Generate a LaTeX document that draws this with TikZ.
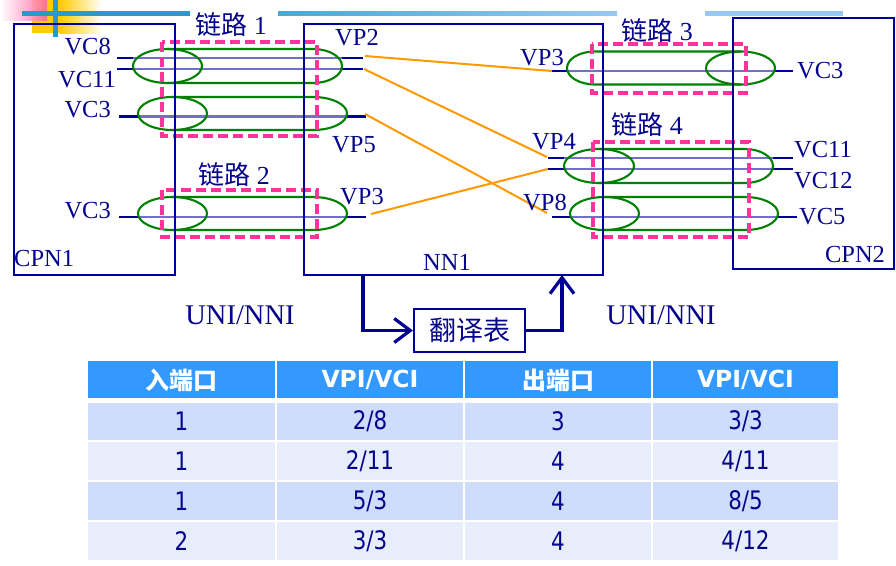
\documentclass[tikz,border=0pt]{standalone}
\usepackage{fontspec}
\setmainfont{Liberation Serif}
\newfontfamily\cjk{Noto Sans CJK SC}
\newfontfamily\tabfont{DejaVu Sans}[FakeStretch=0.84]
\newfontfamily\tabhead{DejaVu Sans}
\usetikzlibrary{arrows.meta}
\definecolor{navy}{RGB}{0,0,150}
\definecolor{txtblue}{RGB}{5,5,140}
\definecolor{lightvc}{RGB}{112,112,200}
\definecolor{tubegreen}{RGB}{0,128,0}
\definecolor{linkpink}{RGB}{255,51,153}
\definecolor{xorange}{RGB}{255,153,0}
\definecolor{hdrblue}{RGB}{51,153,255}
\definecolor{rowa}{RGB}{207,220,252}
\definecolor{rowb}{RGB}{232,237,252}
\definecolor{decoblue}{RGB}{40,155,205}
\definecolor{decoblueb}{RGB}{150,200,245}
\definecolor{decoyellow}{RGB}{255,204,0}
\definecolor{decopink}{RGB}{255,100,160}
\begin{document}
\begin{tikzpicture}[x=1pt,y=-1pt,
  box/.style={draw=navy, line width=2.4pt, inner sep=0pt, outer sep=0pt, anchor=north west},
  lbl/.style={text=txtblue, inner sep=0pt, font=\fontsize{24.5}{28}\selectfont},
  linklbl/.style={text=txtblue, inner sep=0pt, font=\fontsize{26}{30}\selectfont},
  biglbl/.style={text=txtblue, inner sep=0pt, font=\fontsize{28.5}{32}\selectfont},
  vcdark/.style={draw=navy, line width=2.2pt},
  vclight/.style={draw=lightvc, line width=2.2pt},
  tube/.style={draw=tubegreen, line width=2.1pt},
  linkbox/.style={draw=linkpink, line width=3.2pt, dash pattern=on 10pt off 5pt},
  xconn/.style={draw=xorange, line width=2pt},
  flow/.style={draw=navy, line width=3.2pt, -{Straight Barb[length=16pt,width=24pt]}},
  hcell/.style={text=white, inner sep=0pt},
  cell/.style={text=txtblue, inner sep=0pt, font=\tabfont\fontsize{25.5}{27}\selectfont}]
\useasboundingbox (0,0) rectangle (896,565);

% decoration
\fill[decoyellow] (32,0) rectangle (60,33);
\shade[left color=decoyellow, right color=white] (60,0) rectangle (102,33);
\shade[left color=white, right color=decopink, opacity=0.9] (0,0) rectangle (47,20);
\draw[decoblue, line width=4.5pt] (22,13.5) -- (190,13.5);
\draw[decoblue, line width=4.5pt] (55.5,0) -- (55.5,37);
\shade[left color=decoblue!85, right color=decoblueb] (278,11.3) rectangle (617,15.7);
\fill[decoblueb] (705,11.3) rectangle (843,15.7);

% VC / VP lines, left side
\foreach \y in {58,69}{
  \draw[vcdark] (117,\y) -- (133,\y);
  \draw[vclight] (133,\y) -- (342,\y);
  \draw[vcdark] (342,\y) -- (363,\y);
}
\foreach \y in {116.5,217}{
  \draw[vcdark] (119,\y) -- (138,\y);
  \draw[vclight] (138,\y) -- (347,\y);
  \draw[vcdark] (347,\y) -- (366,\y);
}
% right side
\draw[vcdark] (552,71) -- (567,71);
\draw[vclight] (567,71) -- (775,71);
\draw[vcdark] (775,71) -- (793,71);
\foreach \y in {158,169}{
  \draw[vcdark] (548,\y) -- (564,\y);
  \draw[vclight] (564,\y) -- (773,\y);
  \draw[vcdark] (773,\y) -- (793,\y);
}
\draw[vcdark] (552,217) -- (570,217);
\draw[vclight] (570,217) -- (778,217);
\draw[vcdark] (778,217) -- (797,217);

% green tubes
\draw[tube] (167.5,66) ellipse[x radius=34.5pt, y radius=17pt];
\draw[tube] (167.5,49) -- (313,49) arc[start angle=90, end angle=-90, x radius=29pt, y radius=17pt] -- (167.5,83);
\draw[tube] (172.5,113.5) ellipse[x radius=34.5pt, y radius=16.5pt];
\draw[tube] (172.5,97) -- (313,97) arc[start angle=90, end angle=-90, x radius=34pt, y radius=16.5pt] -- (172.5,130);
\draw[tube] (172.5,213.5) ellipse[x radius=34.5pt, y radius=16.5pt];
\draw[tube] (172.5,197) -- (313,197) arc[start angle=90, end angle=-90, x radius=34pt, y radius=16.5pt] -- (172.5,230);
\draw[tube] (740.5,68) ellipse[x radius=34.5pt, y radius=16.5pt];
\draw[tube] (740.5,51.5) -- (595,51.5) arc[start angle=90, end angle=270, x radius=28pt, y radius=16.5pt] -- (740.5,84.5);
\draw[tube] (599,166) ellipse[x radius=35pt, y radius=17pt];
\draw[tube] (599,149) -- (745,149) arc[start angle=90, end angle=-90, x radius=28pt, y radius=17pt] -- (599,183);
\draw[tube] (604.5,213.5) ellipse[x radius=34.5pt, y radius=16.5pt];
\draw[tube] (604.5,197) -- (745,197) arc[start angle=90, end angle=-90, x radius=33pt, y radius=16.5pt] -- (604.5,230);

% links (pink dashed)
\draw[linkbox] (162,42) rectangle (317,136);
\draw[linkbox] (162,190) rectangle (317,237);
\draw[linkbox] (592,44) rectangle (746,93);
\draw[linkbox] (593,142) rectangle (749,237);

% boxes
\node[box, minimum width=161pt, minimum height=251pt] (cpn1) at (14,24) {};
\node[box, minimum width=299pt, minimum height=251pt] (nn1) at (304,24) {};
\node[box, minimum width=161pt, minimum height=251pt] (cpn2) at (733,18) {};

% orange cross connections
\coordinate (a1) at (365,56);   \coordinate (b1) at (552,71);
\coordinate (a2) at (364,69);   \coordinate (b2) at (547,157);
\coordinate (a3) at (365,114);  \coordinate (b3) at (547,213);
\coordinate (a4) at (371,214);  \coordinate (b4) at (548,169);
\draw[xconn] (a1) -- (b1);
\draw[xconn] (a2) -- (b2);
\draw[xconn] (a3) -- (b3);
\draw[xconn] (a4) -- (b4);

% labels
\node[lbl, anchor=east] (lvc8) at (111,47) {VC8};
\node[lbl, anchor=east] (lvc11) at (116,80) {VC11};
\node[lbl, anchor=east] (lvc3a) at (111,110) {VC3};
\node[lbl, anchor=east] (lvc3b) at (111,211) {VC3};
\node[lbl, anchor=west] (lcpn1) at (14,259) {CPN1};
\node[linklbl] (link1) at (231,25) {{\cjk 链路} 1};
\node[linklbl] (link2) at (234,175) {{\cjk 链路} 2};
\node[lbl] (lvp2) at (357,38) {VP2};
\node[lbl] (lvp5) at (354,145) {VP5};
\node[lbl] (lvp3a) at (362,197) {VP3};
\node[lbl] (lnn1) at (447,262) {NN1};
\node[lbl] (lvp3b) at (542,58) {VP3};
\node[lbl] (lvp4) at (554,142) {VP4};
\node[lbl] (lvp8) at (545,203) {VP8};
\node[linklbl] (link3) at (657,31) {{\cjk 链路} 3};
\node[linklbl] (link4) at (647,125) {{\cjk 链路} 4};
\node[lbl, anchor=west] (rvc3) at (797,71) {VC3};
\node[lbl, anchor=west] (rvc11) at (794,150) {VC11};
\node[lbl, anchor=west] (rvc12) at (794,181) {VC12};
\node[lbl, anchor=west] (rvc5) at (799,217) {VC5};
\node[lbl] (lcpn2) at (855,255) {CPN2};
\node[biglbl] (uni1) at (240,315) {UNI/NNI};
\node[biglbl] (uni2) at (661,315) {UNI/NNI};

% translation table flow
\node[draw=navy, line width=2.2pt, minimum width=111pt, minimum height=43pt, inner sep=0pt,
      text=txtblue, font=\cjk\fontsize{27}{30}\selectfont] (xlat) at (469.5,330.5) {翻译表};
\coordinate (fdown) at (363,275);
\coordinate (fup) at (562,275);
\draw[flow] (fdown) |- (xlat.west);
\draw[flow] (xlat.east) -| (fup);

% table
\foreach \a/\b in {88/275,277/463,465/651,653/838}{
  \fill[hdrblue] (\a,361) rectangle (\b,398);
  \fill[rowa] (\a,403) rectangle (\b,440);
  \fill[rowb] (\a,442) rectangle (\b,480);
  \fill[rowa] (\a,482) rectangle (\b,520);
  \fill[rowb] (\a,522) rectangle (\b,560);
}
\node[hcell, font=\cjk\fontsize{24}{26}\selectfont\bfseries] (h1) at (181.5,380) {入端口};
\node[hcell, font=\tabhead\fontsize{23.5}{25}\selectfont\bfseries] (h2) at (370,380) {VPI/VCI};
\node[hcell, font=\cjk\fontsize{24}{26}\selectfont\bfseries] (h3) at (558,380) {出端口};
\node[hcell, font=\tabhead\fontsize{23.5}{25}\selectfont\bfseries] (h4) at (745.5,380) {VPI/VCI};
\node[cell] (c11) at (181.5,421.5) {1};
\node[cell] (c12) at (370,421.5) {2/8};
\node[cell] (c13) at (558,421.5) {3};
\node[cell] (c14) at (745.5,421.5) {3/3};
\node[cell] (c21) at (181.5,461) {1};
\node[cell] (c22) at (370,461) {2/11};
\node[cell] (c23) at (558,461) {4};
\node[cell] (c24) at (745.5,461) {4/11};
\node[cell] (c31) at (181.5,501) {1};
\node[cell] (c32) at (370,501) {5/3};
\node[cell] (c33) at (558,501) {4};
\node[cell] (c34) at (745.5,501) {8/5};
\node[cell] (c41) at (181.5,541) {2};
\node[cell] (c42) at (370,541) {3/3};
\node[cell] (c43) at (558,541) {4};
\node[cell] (c44) at (745.5,541) {4/12};
\end{tikzpicture}
\end{document}
